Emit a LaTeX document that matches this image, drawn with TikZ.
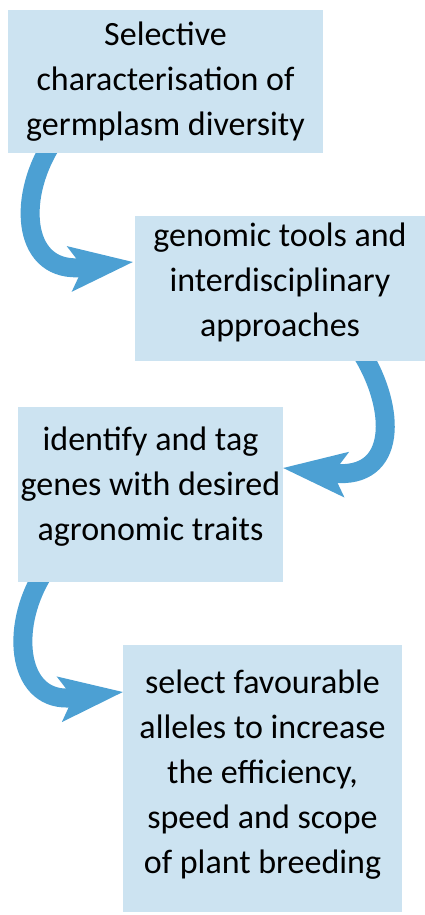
\documentclass[tikz,border=0pt]{standalone}
\usepackage{fontspec}
\setmainfont{Carlito}
\usetikzlibrary{arrows.meta}
\definecolor{boxfill}{RGB}{204,227,241}
\definecolor{arrowblue}{RGB}{76,160,211}
\pgfdeclarelayer{bg}
\pgfsetlayers{bg,main}
\begin{document}
\begin{tikzpicture}[x=1pt,y=-1pt,
  stepbox/.style={fill=boxfill, draw=none, align=center, inner sep=0pt,
    font=\fontsize{34}{45}\selectfont},
  flow/.style={draw=arrowblue, line width=19pt,
    -{Stealth[length=64pt,width=46pt,inset=14pt,line width=0pt,fill=arrowblue]}}]
\useasboundingbox (0,0) rectangle (425,915);
\node[stepbox, minimum width=315pt, minimum height=143pt] (b1) at (165.5,81.5)
  {Selective\\characterisation of\\germplasm diversity};
\node[stepbox, minimum width=290pt, minimum height=145pt, text depth=17pt] (b2) at (280,288.5)
  {genomic tools and\\interdisciplinary\\approaches};
\node[stepbox, minimum width=265pt, minimum height=175pt, text depth=21pt] (b3) at (150.5,494.5)
  {identify and tag\\genes with desired\\agronomic traits};
\node[stepbox, minimum width=279pt, minimum height=267pt, text depth=13pt] (b4) at (262.5,778.5)
  {select favourable\\alleles to increase\\the efficiency,\\speed and scope\\of plant breeding};
\begin{pgfonlayer}{bg}
\draw[flow] ([shift={(43,-8)}]b1.south west) .. controls +(-34,55) and +(-110,12) .. ([shift={(-2,-26.5)}]b2.west);
\draw[flow] ([shift={(227,-8)}]b2.south west) .. controls +(34,55) and +(115,12) .. ([shift={(0,-26.5)}]b3.east);
\draw[flow] ([shift={(25,-8)}]b3.south west) .. controls +(-34,55) and +(-105,12) .. ([shift={(0,-86.5)}]b4.west);
\end{pgfonlayer}
\end{tikzpicture}
\end{document}
